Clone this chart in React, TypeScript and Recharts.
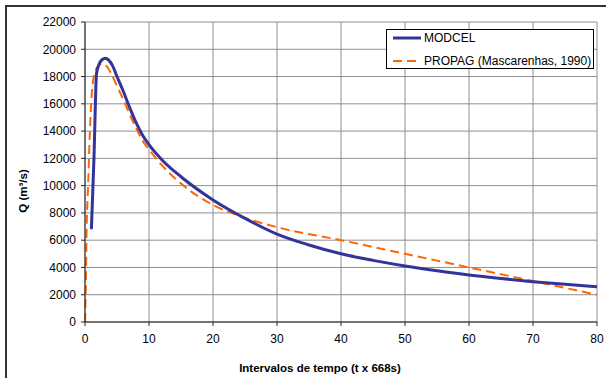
import { LineChart, Line, XAxis, YAxis, CartesianGrid, Legend, Label } from "recharts";

// MODCEL hydrograph (t in intervals of 668 s, Q in m3/s)
const modcelT = [1, 1.4, 1.8, 2.2, 2.7, 3.2, 3.7, 4.3, 5, 6, 7, 8, 9, 10, 12, 15, 20, 25, 30, 35, 40, 45, 50, 55, 60, 65, 70, 75, 80];
const modcelQ = [6800, 12000, 18200, 18900, 19250, 19350, 19200, 18800, 18000, 16900, 15700, 14600, 13700, 13000, 11900, 10650, 8950, 7600, 6450, 5650, 5000, 4520, 4110, 3760, 3450, 3190, 2960, 2760, 2590];

// PROPAG (Mascarenhas, 1990)
const propagT = [0, 0.1, 0.25, 0.5, 0.75, 1, 1.3, 1.7, 2.2, 2.7, 3.3, 4, 5, 6, 7, 8, 9, 10, 12, 15, 20, 24, 30, 40, 50, 60, 70, 80];
const propagQ = [0, 1900, 6700, 10200, 13800, 16300, 17800, 18500, 18850, 18950, 18800, 18300, 17300, 16300, 15200, 14200, 13300, 12650, 11500, 10150, 8580, 7800, 6950, 6000, 5000, 4000, 3000, 2000];

const xTicks = [0, 10, 20, 30, 40, 50, 60, 70, 80];
const yTicks = [0, 2000, 4000, 6000, 8000, 10000, 12000, 14000, 16000, 18000, 20000, 22000];

const modcelData = modcelT.map((t, i) => ({ t, q: modcelQ[i] }));
const propagData = propagT.map((t, i) => ({ t, q: propagQ[i] }));

const font = "'Liberation Sans', Arial, sans-serif";

const series = [
  { name: "MODCEL", color: "#333399", width: 3, dash: undefined as string | undefined },
  { name: "PROPAG (Mascarenhas, 1990)", color: "#ff6600", width: 2, dash: "9 5" },
];

function LegendBox() {
  return (
    <div style={{
      border: "1px solid #000", background: "#fff", width: 206, height: 38,
      boxSizing: "content-box", fontFamily: font, fontSize: 12, color: "#000"
    }}>
      {series.map((s, i) => (
        <div key={s.name} style={{
          display: "flex", alignItems: "center", height: 14, lineHeight: "14px",
          marginTop: i === 0 ? 1 : 9, paddingLeft: 6
        }}>
          <svg width={28} height={6} style={{ marginRight: 3 }}>
            <line x1={0} y1={3} x2={28} y2={3} stroke={s.color}
              strokeWidth={s.width} strokeDasharray={s.dash} />
          </svg>
          <span>{s.name}</span>
        </div>
      ))}
    </div>
  );
}

export default function App() {
  return (
    <div style={{
      position: "fixed", left: 0, top: 0, width: 606, height: 378,
      overflow: "hidden", background: "#fff"
    }}>
      {/* outer chart frame (right/bottom edges fall outside the picture) */}
      <div style={{
        position: "absolute", left: 5, top: 5, width: 700, height: 500,
        borderTop: "2px solid #333", borderLeft: "2px solid #333"
      }} />
      <LineChart
        width={606} height={378}
        margin={{ top: 22, right: 9, bottom: 0, left: 0 }}
        style={{ fontFamily: font, position: "absolute", left: 0, top: 0 }}
      >
        <CartesianGrid stroke="#8f8f8f" strokeWidth={1} />
        <XAxis
          dataKey="t" type="number" domain={[0, 80]} ticks={xTicks}
          height={56} allowDuplicatedCategory={false}
          stroke="#222" tickSize={4} tickMargin={8}
          tick={{ fontSize: 12, fill: "#000" }}
        >
          <Label content={({ viewBox }: any) => (
            <text
              x={viewBox.x + viewBox.width / 2 - 21} y={viewBox.y + viewBox.height - 6.5}
              textAnchor="middle" fontSize={11.5} fontWeight="bold" fill="#000"
            >
              Intervalos de tempo (t x 668s)
            </text>
          )} />
        </XAxis>
        <YAxis
          type="number" domain={[0, 22000]} ticks={yTicks} width={85}
          stroke="#222" tickSize={4} tickMargin={5}
          tick={{ fontSize: 12, fill: "#000" }}
        >
          <Label content={({ viewBox }: any) => {
            const x = viewBox.x + 23;
            const y = viewBox.y + viewBox.height / 2 + 19;
            return (
              <text
                x={x} y={y} transform={`rotate(-90, ${x}, ${y})`}
                textAnchor="middle" dominantBaseline="central"
                fontSize={11.5} fontWeight="bold" fill="#000"
              >
                Q (m³/s)
              </text>
            );
          }} />
        </YAxis>
        <Legend
          layout="vertical" align="center" verticalAlign="middle"
          content={() => <LegendBox />}
          wrapperStyle={{ position: "absolute", left: 386, top: 29, width: 208 }}
        />
        <Line
          data={propagData} dataKey="q" name={series[1].name} type="monotone"
          stroke={series[1].color} strokeWidth={series[1].width} strokeDasharray={series[1].dash}
          dot={false} activeDot={false} isAnimationActive={false}
        />
        <Line
          data={modcelData} dataKey="q" name={series[0].name} type="monotone"
          stroke={series[0].color} strokeWidth={series[0].width}
          dot={false} activeDot={false} isAnimationActive={false}
        />
      </LineChart>
    </div>
  );
}
